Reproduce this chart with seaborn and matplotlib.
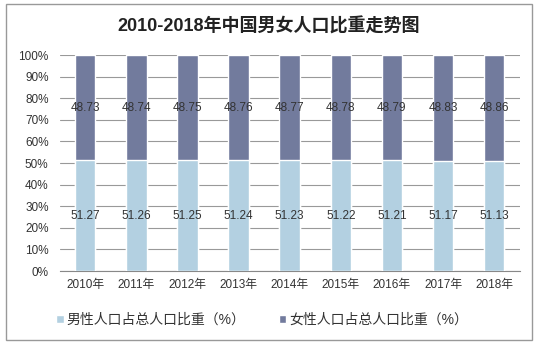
import matplotlib
matplotlib.use("Agg")
import matplotlib.pyplot as plt
import seaborn as sns
import pandas as pd
from matplotlib.patches import Rectangle

sns.set_style("white")
plt.rcParams['font.family'] = ['Liberation Sans', 'Noto Sans CJK SC', 'DejaVu Sans']

years = ["2010年", "2011年", "2012年", "2013年", "2014年", "2015年", "2016年", "2017年", "2018年"]
male = [51.27, 51.26, 51.25, 51.24, 51.23, 51.22, 51.21, 51.17, 51.13]
female = [48.73, 48.74, 48.75, 48.76, 48.77, 48.78, 48.79, 48.83, 48.86]
male_label = "男性人口占总人口比重（%）"
female_label = "女性人口占总人口比重（%）"

c_male = "#b3d0e1"
c_female = "#727b9d"

df = pd.DataFrame({"year": years, "male": male, "female": female})
df["total"] = df["male"] + df["female"]

fig = plt.figure(figsize=(5.38, 3.44), dpi=100)
ax = fig.add_axes([0.111, 0.212, 0.855, 0.628])

sns.barplot(data=df, x="year", y="total", color=c_female, width=0.4, ax=ax,
            saturation=1, label=female_label, zorder=3)
sns.barplot(data=df, x="year", y="male", color=c_male, width=0.4, ax=ax,
            saturation=1, label=male_label, zorder=3)

for i, (m, f) in enumerate(zip(male, female)):
    ax.text(i, m / 2, f"{m:.2f}", ha="center", va="center", fontsize=8.5, color="#333333", zorder=4)
    ax.text(i, m + f / 2, f"{f:.2f}", ha="center", va="center", fontsize=8.5, color="#333333", zorder=4)

ax.set_ylim(0, 100)
ax.set_xlim(-0.5, len(years) - 0.5)
ax.set_yticks(range(0, 101, 10))
ax.set_yticklabels([f"{v}%" for v in range(0, 101, 10)], fontsize=8.5, color="#333333")
ax.tick_params(axis="x", labelsize=8.5, labelcolor="#333333", length=0, pad=6)
ax.tick_params(axis="y", length=0, pad=8)
ax.set_xlabel("")
ax.set_ylabel("")
ax.yaxis.grid(True, color="#999999", linewidth=0.8, zorder=0)
for s in ["top", "right", "left"]:
    ax.spines[s].set_visible(False)
ax.spines["bottom"].set_color("#888888")

handles, labels = ax.get_legend_handles_labels()
order = [labels.index(male_label), labels.index(female_label)]
ax.legend([handles[k] for k in order], [labels[k] for k in order],
          loc="center", bbox_to_anchor=(0.44, -0.225), ncol=2, frameon=False,
          fontsize=10, handlelength=0.55, handleheight=0.55, columnspacing=2.4,
          handletextpad=0.2, labelcolor="#333333")

fig.text(0.5, 0.922, "2010-2018年中国男女人口比重走势图", ha="center", va="center",
         fontsize=13, fontweight="bold", color="#222222")

fig.patches.append(Rectangle((0.012, 0.012), 0.976, 0.976, transform=fig.transFigure,
                             fill=False, edgecolor="#999999", linewidth=1))

fig.savefig("out.png", dpi=100)
